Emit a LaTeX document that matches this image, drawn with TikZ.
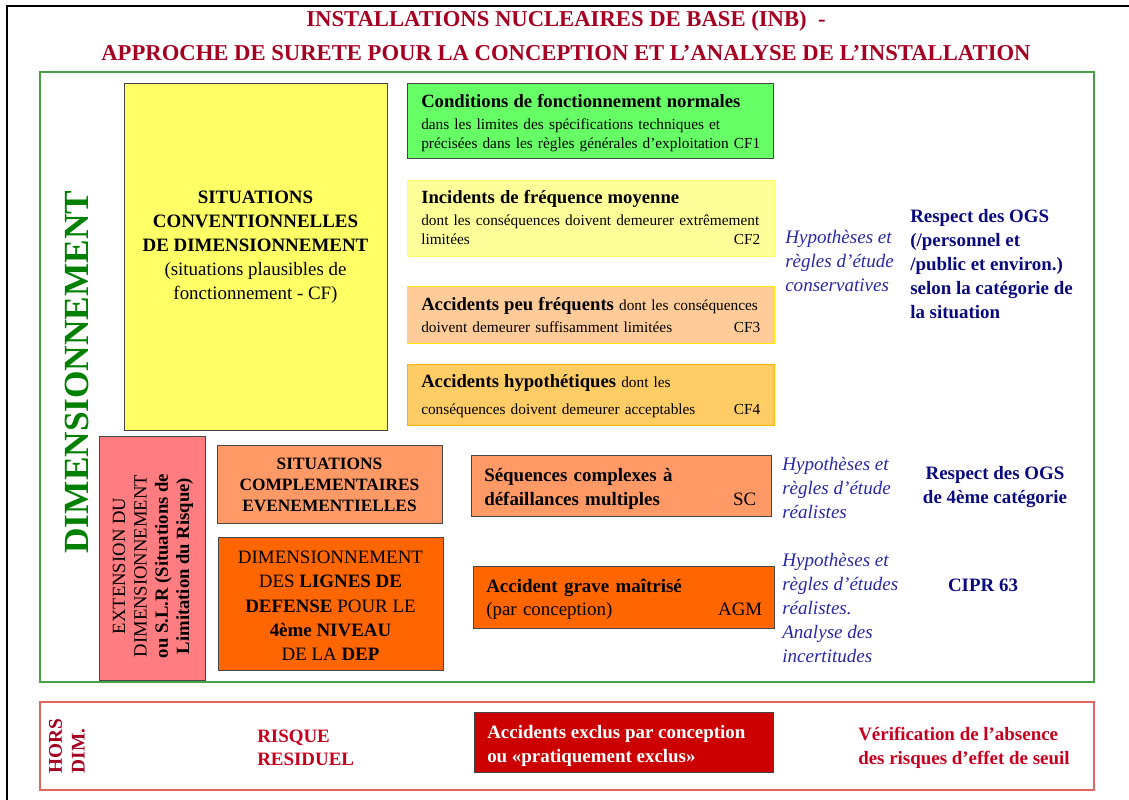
\documentclass[tikz,border=0pt]{standalone}
\usepackage{fontspec}
\setmainfont{Liberation Serif}
\definecolor{titlered}{RGB}{165,0,33}
\definecolor{dimgreen}{RGB}{0,128,0}
\definecolor{frgreen}{RGB}{70,160,70}
\definecolor{frred}{RGB}{232,100,100}
\definecolor{ybox}{RGB}{255,255,102}
\definecolor{gbox}{RGB}{102,255,102}
\definecolor{cftwo}{RGB}{255,255,153}
\definecolor{cfthree}{RGB}{255,204,153}
\definecolor{cffour}{RGB}{255,204,102}
\definecolor{pinkbox}{RGB}{255,124,128}
\definecolor{salmon}{RGB}{255,153,102}
\definecolor{orangebox}{RGB}{255,102,0}
\definecolor{darkredbox}{RGB}{204,0,0}
\definecolor{itblue}{RGB}{40,40,170}
\definecolor{navytxt}{RGB}{10,10,128}
\definecolor{redtxt}{RGB}{200,0,30}
\definecolor{boxline}{RGB}{70,70,70}
\tikzset{
  box/.style={draw=boxline, line width=0.9pt, inner sep=0pt, anchor=north west},
  lbox/.style={line width=0.9pt, inner sep=0pt, anchor=north west},
  cftext/.style={anchor=north west, align=left, inner sep=0pt, text width={339*0.75pt}, font=\fontsize{11.5}{14.5}\selectfont},
  boxtext/.style={anchor=north west, align=left, inner sep=0pt},
  ttl/.style={font=\fontsize{17}{20}\selectfont\bfseries, text=titlered, inner sep=0pt},
  ital/.style={font=\fontsize{14.3}{18}\selectfont\itshape, text=itblue, align=left, anchor=west, inner sep=0pt},
  navy/.style={font=\fontsize{14.2}{18}\selectfont\bfseries, text=navytxt, inner sep=0pt},
  redt/.style={font=\fontsize{14.2}{17.5}\selectfont\bfseries, text=redtxt, align=left, anchor=west, inner sep=0pt},
}
\newcommand{\cftitle}[1]{{\fontsize{14}{16}\selectfont\bfseries #1}}
\begin{document}
\begin{tikzpicture}[x=0.75pt,y=-0.75pt]
\useasboundingbox (0,0) rectangle (1129,800);
% outer black frame
\draw[line width=1.6pt] (1129,6) -- (7,6) -- (7,800);
% title
\node[ttl] (t1) at (566,21) {INSTALLATIONS NUCLEAIRES DE BASE (INB)\ \ -};
\node[ttl] (t2) at (566,53) {APPROCHE DE SURETE POUR LA CONCEPTION ET L'ANALYSE DE L'INSTALLATION};
% frames
\draw[frgreen, line width=1pt] (40,72) rectangle (1094,682);
\draw[frred, line width=1pt] (40,702) rectangle (1094,790);
% DIMENSIONNEMENT
\node[rotate=90, font=\fontsize{26.5}{26.5}\selectfont\bfseries, text=dimgreen, inner sep=0pt] (dim) at (77,372) {DIMENSIONNEMENT};
% yellow box
\node[box, fill=ybox, minimum width={263*0.75pt}, minimum height={347*0.75pt}] (yb) at (124,83) {};
\node[align=center, inner sep=0pt, font=\fontsize{14.2}{18}\selectfont] (ybt) at (255.5,247) {\textbf{SITUATIONS}\\\textbf{CONVENTIONNELLES}\\\textbf{DE DIMENSIONNEMENT}\\(situations plausibles de\\fonctionnement - CF)};
% CF boxes
\node[box, fill=gbox, minimum width={366*0.75pt}, minimum height={75*0.75pt}] (cf1) at (407,83) {};
\node[cftext] (cf1t) at (421,94) {\cftitle{Conditions de fonctionnement normales}\\[2pt]
dans les limites des spécifications techniques et\\précisées dans les règles générales d'exploitation CF1};
\node[lbox, draw=ybox, fill=cftwo, minimum width={367*0.75pt}, minimum height={76*0.75pt}] (cf2) at (407,180) {};
\node[cftext] (cf2t) at (421,190) {\cftitle{Incidents de fréquence moyenne}\\[2pt]
dont les conséquences doivent demeurer extrêmement\\limitées\hfill CF2};
\node[lbox, draw=yellow!90!orange, fill=cfthree, minimum width={367*0.75pt}, minimum height={57*0.75pt}] (cf3) at (407,286) {};
\node[cftext] (cf3t) at (421,297) {\cftitle{Accidents peu fréquents} dont les conséquences\\[2pt]
doivent demeurer suffisamment limitées\hfill CF3};
\node[lbox, draw=orange!60!yellow, fill=cffour, minimum width={367*0.75pt}, minimum height={61*0.75pt}] (cf4) at (407,364) {};
\node[cftext] (cf4t) at (421,374) {\cftitle{Accidents hypothétiques} dont les\\[6pt]
conséquences doivent demeurer acceptables\hfill CF4};
% right texts upper
\node[ital] (h1) at (785,261) {Hypothèses et\\règles d'étude\\conservatives};
\node[navy, align=left, anchor=west] (o1) at (910,264) {Respect des OGS\\(/personnel et\\/public et environ.)\\selon la catégorie de\\la situation};
% extension pink box
\node[box, fill=pinkbox, minimum width={106*0.75pt}, minimum height={244*0.75pt}] (pk) at (99,436) {};
\node[rotate=90, align=center, inner sep=0pt, font=\fontsize{14}{16}\selectfont] (pkt) at (153,566) {EXTENSION DU\\DIMENSIONNEMENT\\\textbf{ou S.L.R (Situations de}\\\textbf{Limitation du Risque)}};
% situations complementaires
\node[box, fill=salmon, minimum width={225*0.75pt}, minimum height={78*0.75pt}] (sc0) at (217,445) {};
\node[align=center, inner sep=0pt, font=\fontsize{13}{16}\selectfont\bfseries] (sc0t) at (329.5,485) {SITUATIONS\\COMPLEMENTAIRES\\EVENEMENTIELLES};
% dimensionnement lignes de defense
\node[box, fill=orangebox, minimum width={225*0.75pt}, minimum height={133*0.75pt}] (ld) at (218,537) {};
\node[align=center, inner sep=0pt, font=\fontsize{14.2}{18.2}\selectfont] (ldt) at (330.5,606) {DIMENSIONNEMENT\\DES \textbf{LIGNES DE}\\\textbf{DEFENSE} POUR LE\\\textbf{4ème NIVEAU}\\DE LA \textbf{DEP}};
% SC box
\node[box, fill=salmon, minimum width={300*0.75pt}, minimum height={61*0.75pt}] (sc) at (471,455) {};
\node[boxtext, text width={272*0.75pt}, font=\fontsize{14.2}{18}\selectfont] (sct) at (484,468) {\textbf{Séquences complexes à}\\\textbf{défaillances multiples}\hfill SC};
% AGM box
\node[box, fill=orangebox, minimum width={301*0.75pt}, minimum height={62*0.75pt}] (agm) at (473,566) {};
\node[boxtext, text width={276*0.75pt}, font=\fontsize{14.2}{17}\selectfont] (agmt) at (486,579) {\textbf{Accident grave maîtrisé}\\(par conception)\hfill AGM};
% right texts lower
\node[ital] (h2) at (782,488) {Hypothèses et\\règles d'étude\\réalistes};
\node[ital] (h3) at (782,608) {Hypothèses et\\règles d'études\\réalistes.\\Analyse des\\incertitudes};
\node[navy, align=center] (o2) at (995,487) {Respect des OGS\\de 4ème catégorie};
\node[navy] (o3) at (983,585) {CIPR 63};
% bottom band
\node[rotate=90, align=left, inner sep=0pt, text=titlered, font=\fontsize{14.5}{17}\selectfont\bfseries] (hd) at (67,746) {HORS\\DIM.};
\node[redt] (rr) at (257,748) {RISQUE\\RESIDUEL};
\node[box, fill=darkredbox, minimum width={299*0.75pt}, minimum height={60*0.75pt}] (ex) at (474,712) {};
\node[redt, text=white] (ext) at (487,746) {Accidents exclus par conception\\ou «pratiquement exclus»};
\node[redt] (ver) at (858,748) {Vérification de l'absence\\des risques d'effet de seuil};
\end{tikzpicture}
\end{document}
